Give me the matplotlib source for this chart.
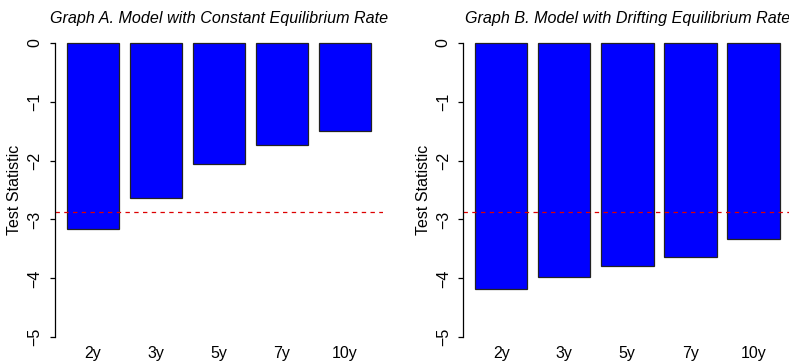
# Test statistics by maturity, two model variants

import matplotlib.pyplot as plt
import numpy as np

plt.rcParams['font.family'] = ['Liberation Sans', 'DejaVu Sans']

maturities = ['2y', '3y', '5y', '7y', '10y']
stat_const = [-3.16, -2.64, -2.06, -1.73, -1.49]
stat_drift = [-4.18, -3.98, -3.79, -3.64, -3.33]
crit_value = -2.87

titles = ['Graph A. Model with Constant Equilibrium Rate',
          'Graph B. Model with Drifting Equilibrium Rate']

W, H = 789, 362
fig = plt.figure(figsize=(W/100, H/100), dpi=100)

# axes boxes in pixels: left, top, width, height
boxes = [(54.5, 31, 328.9, 318), (462.8, 31, 328.9, 318)]

xpos = 0.2 + 0.5 + 1.2*np.arange(len(maturities))

for box, vals, title in zip(boxes, [stat_const, stat_drift], titles):
    l, t, w, h = box
    ax = fig.add_axes([l/W, 1 - (t+h)/H, w/W, h/H])
    ax.bar(xpos, vals, width=1.0, color='#0000FF', edgecolor='#222222', linewidth=0.9)
    ax.axhline(crit_value, color='#DD0000', lw=0.9, dashes=(3.5, 3.5))
    ax.set_xlim(-0.032, 6.232)
    ax.set_ylim(-5.2, 0.2)
    for s in ['top', 'right', 'bottom']:
        ax.spines[s].set_visible(False)
    ax.spines['left'].set_bounds(-5, 0)
    ax.spines['left'].set_linewidth(0.9)
    ax.set_yticks([0, -1, -2, -3, -4, -5])
    ax.set_yticklabels(['0', '\u22121', '\u22122', '\u22123', '\u22124', '\u22125'],
                       rotation=90, va='center')
    ax.tick_params(axis='y', length=3.6, width=0.9, pad=5, labelsize=11.5)
    ax.set_xticks(xpos)
    ax.set_xticklabels(maturities)
    ax.tick_params(axis='x', length=0, pad=-2, labelsize=11.5)
    ax.set_ylabel('Test Statistic', fontsize=11.5)
    ax.yaxis.set_label_coords(-0.098, 0.5)
    ax.set_title(title, fontsize=11.6, style='italic', pad=6)

plt.savefig('out.png', dpi=100)
